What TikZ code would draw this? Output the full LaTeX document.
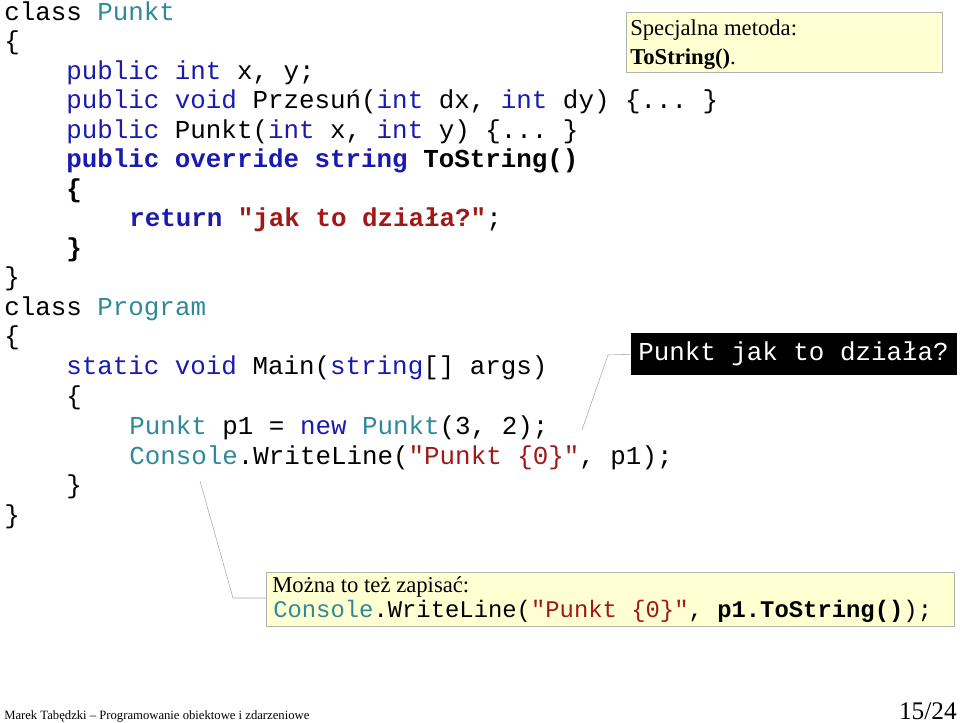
\documentclass[tikz,border=0pt]{standalone}
\usepackage{fontspec}
\setmainfont{Liberation Serif}
\setmonofont{Liberation Mono}
\usepackage{xcolor}
\usetikzlibrary{positioning}
\definecolor{kwblue}{HTML}{1A1AB0}
\definecolor{tyteal}{HTML}{2E8A9A}
\definecolor{strred}{HTML}{A01818}
\definecolor{notefill}{HTML}{FFFFD2}
\newcommand{\kw}[1]{\textcolor{kwblue}{#1}}
\newcommand{\ty}[1]{\textcolor{tyteal}{#1}}
\newcommand{\st}[1]{\textcolor{strred}{#1}}
\tikzset{
  code/.style={ % one line of source
    anchor=base west, inner sep=0pt,
    font=\ttfamily\fontsize{19.4pt}{22pt}\selectfont
  },
  note/.style={ % yellow remark box
    draw=gray!60, fill=notefill, inner sep=0pt, anchor=north west
  },
  leader/.style={draw=gray!70, thin}
}
\begin{document}
\begin{tikzpicture}[x=0.75pt,y=-0.75pt]
  \useasboundingbox (0,0) rectangle (960,723);

  % class Punkt
  \node[code] (l1) at (4,21) {class \ty{Punkt}};
  \node[code] (l2) at (4,50) {\{};
  \node[code] (l3) at (66,80) {\kw{public} \kw{int} x, y;};
  \node[code] (l4) at (66,109) {\kw{public} \kw{void} Przesuń(\kw{int} dx, \kw{int} dy) \{... \}};
  \node[code] (l5) at (66,139) {\kw{public} Punkt(\kw{int} x, \kw{int} y) \{... \}};
  \node[code] (l6) at (66,168) {\bfseries\kw{public} \kw{override} \kw{string} ToString()};
  \node[code] (l7) at (66,198) {\bfseries\{};
  \node[code] (l8) at (129,227) {\bfseries\kw{return} \st{"jak to działa?"}\mdseries;};
  \node[code] (l9) at (66,257) {\bfseries\}};
  \node[code] (l10) at (4,286) {\}};
  % class Program
  \node[code] (l11) at (4,316) {class \ty{Program}};
  \node[code] (l12) at (4,345) {\{};
  \node[code] (l13) at (66,375) {\kw{static} \kw{void} Main(\kw{string}[] args)};
  \node[code] (l14) at (66,405) {\{};
  \node[code] (l15) at (129,434) {\ty{Punkt} p1 = \kw{new} \ty{Punkt}(3, 2);};
  \node[code] (l16) at (129,464) {\ty{Console}.WriteLine(\st{"Punkt \{0\}"}, p1);};
  \node[code] (l17) at (66,493) {\}};
  \node[code] (l18) at (4,523) {\}};

  % remarks
  \node[note, minimum width=316*0.75pt, minimum height=60*0.75pt] (method) at (626,12) {};
  \node[anchor=base west, inner sep=0pt, font=\fontsize{17pt}{20pt}\selectfont] (method1) at (630,36) {Specjalna metoda:};
  \node[anchor=base west, inner sep=0pt, font=\fontsize{17pt}{20pt}\selectfont] (method2) at (630,65) {\textbf{ToString()}.};

  \node[fill=black, anchor=north west, inner sep=0pt, minimum width=326*0.75pt, minimum height=42*0.75pt] (output) at (631,333) {};
  \node[code, text=white] (outtext) at (638,361) {Punkt jak to działa?};
  \coordinate (outbend) at (608,355);
  \coordinate (outfoot) at (582,430);
  \draw[leader] (outfoot) -- (outbend) -- (output.west);

  \node[note, minimum width=688*0.75pt, minimum height=54*0.75pt] (alt) at (266,572) {};
  \node[anchor=base west, inner sep=0pt, font=\fontsize{17pt}{20pt}\selectfont] (alt1) at (272,592) {Można to też zapisać:};
  \node[code, font=\ttfamily\fontsize{17.9pt}{20pt}\selectfont] (alt2) at (273,617) {\ty{Console}.WriteLine(\st{"Punkt \{0\}"}, \textbf{p1.ToString()});};
  \coordinate (altbend) at (233,598);
  \coordinate (altfoot) at (200,481);
  \draw[leader] (altfoot) -- (altbend) -- (alt.west |- altbend);

  % footer
  \node[anchor=base west, inner sep=0pt, font=\fontsize{9.5pt}{11pt}\selectfont] (author) at (4,719) {Marek Tabędzki – Programowanie obiektowe i zdarzeniowe};
  \node[anchor=base east, inner sep=0pt, font=\fontsize{19pt}{22pt}\selectfont] (page) at (957,719) {15/24};
\end{tikzpicture}
\end{document}
